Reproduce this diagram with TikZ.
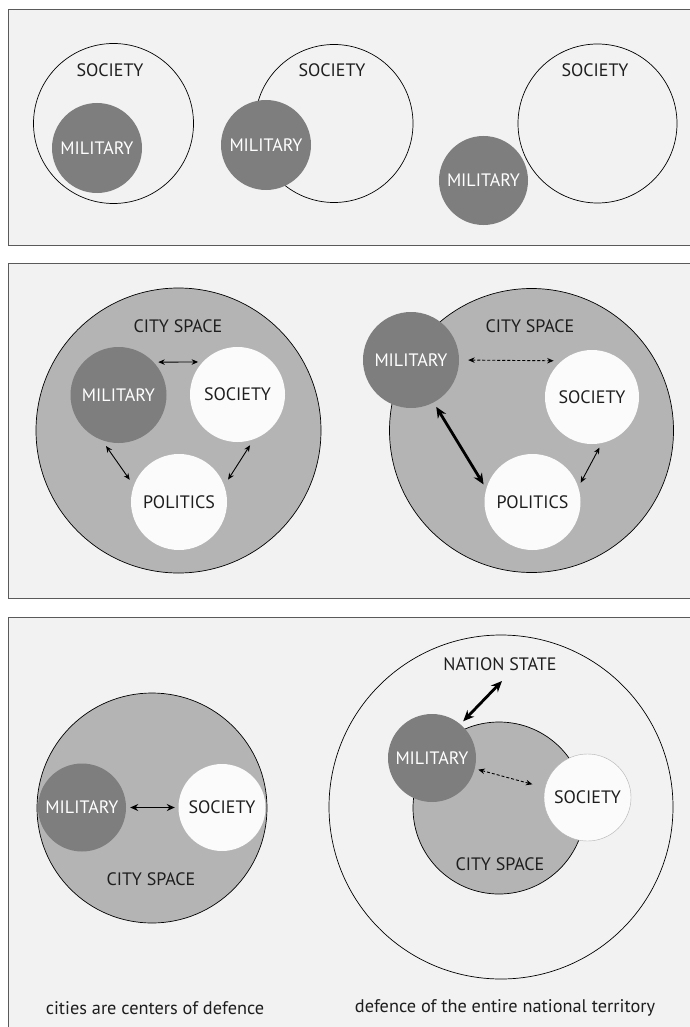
\documentclass[tikz,border=0pt]{standalone}
\usepackage{fontspec}
\setmainfont{PT Sans}
\usetikzlibrary{arrows.meta}
\definecolor{panelbg}{HTML}{F2F2F2}
\definecolor{milgray}{HTML}{7E7E7E}
\definecolor{citygray}{HTML}{B4B4B4}
\definecolor{socwhite}{HTML}{FBFBFB}
\definecolor{textdark}{HTML}{1E1E1E}
\definecolor{framegray}{HTML}{5A5A5A}
\begin{document}
\begin{tikzpicture}[x=1pt,y=-1pt,
  panel/.style={fill=panelbg, draw=framegray, line width=1pt},
  lbl/.style={text=textdark, font=\fontsize{18}{18}\selectfont, inner sep=0pt},
  ring/.style={circle, draw=black, line width=0.7pt, inner sep=0pt, text=textdark, font=\fontsize{18}{18}\selectfont},
  milnode/.style={circle, fill=milgray, inner sep=0pt, text=white, font=\fontsize{18}{18}\selectfont},
  socnode/.style={circle, fill=socwhite, inner sep=0pt, text=textdark, font=\fontsize{18}{18}\selectfont},
  citynode/.style={circle, fill=citygray, draw=black, line width=0.7pt, inner sep=0pt},
  thinarr/.style={{Stealth[length=6.5pt,width=5.5pt]}-{Stealth[length=6.5pt,width=5.5pt]}, line width=0.9pt, black},
  dasharr/.style={thinarr, dashed, dash pattern=on 3pt off 2pt},
  midarr/.style={{Stealth[length=8pt,width=7pt]}-{Stealth[length=8pt,width=7pt]}, line width=1.7pt, black},
  thickarr/.style={{Stealth[length=11pt,width=9.5pt]}-{Stealth[length=11pt,width=9.5pt]}, line width=2.8pt, black},
  caption/.style={text=textdark, font=\fontsize{18.3}{18.3}\selectfont, inner sep=0pt}
]
\useasboundingbox (0,0) rectangle (690,1027);
\clip (0,0) rectangle (690,1027);
\fill[white] (0,0) rectangle (690,1027);

% ---------- panel 1 ----------
\draw[panel] (8,10) rectangle (720,245);
\node[ring, minimum size=160pt] (s1a) at (113.5,123.5) {};
\node[lbl] (t1a) at (110,70) {SOCIETY};
\node[milnode, minimum size=90pt] (m1a) at (97,148) {MILITARY};

\node[ring, minimum size=158pt] (s1b) at (334,123.5) {};
\node[lbl] (t1b) at (332,70) {SOCIETY};
\node[milnode, minimum size=90pt] (m1b) at (266,145) {MILITARY};

\node[ring, minimum size=159pt] (s1c) at (597.5,123.5) {};
\node[lbl] (t1c) at (595,70) {SOCIETY};
\node[milnode, minimum size=89pt] (m1c) at (483.5,180.5) {MILITARY};

% ---------- panel 2 ----------
\draw[panel] (8,263) rectangle (720,598);
\node[citynode, minimum size=285pt] (c2a) at (178.5,430.5) {};
\node[lbl] (ct2a) at (178,326) {CITY SPACE};
\node[milnode, minimum size=96pt] (m2a) at (118.5,395) {MILITARY};
\node[socnode, minimum size=95pt] (s2a) at (237.5,394.5) {SOCIETY};
\node[socnode, minimum size=96pt] (p2a) at (179,502) {POLITICS};
\draw[thinarr, shorten <=4.5pt, shorten >=4.5pt] (m2a.43) -- (s2a.137);
\draw[thinarr, shorten <=7pt, shorten >=7pt] (m2a.250) -- (p2a.160);
\draw[thinarr, shorten <=7pt, shorten >=7pt] (s2a.290) -- (p2a.20);

\node[citynode, minimum size=284pt] (c2b) at (531.5,430.5) {};
\node[lbl] (ct2b) at (530,326) {CITY SPACE};
\node[milnode, minimum size=96pt] (m2b) at (411,360) {MILITARY};
\node[socnode, minimum size=94pt] (s2b) at (592,397) {SOCIETY};
\node[socnode, minimum size=96pt] (p2b) at (532.5,502) {POLITICS};
\draw[dasharr, shorten <=9pt, shorten >=8pt] (m2b.0) -- (s2b.130);
\draw[thickarr, shorten <=5pt, shorten >=5pt] (m2b.298) -- (p2b.164);
\draw[thinarr, shorten <=5pt, shorten >=5pt] (s2b.282) -- (p2b.18);

% ---------- panel 3 ----------
\draw[panel] (8,617) rectangle (720,1060);
\node[citynode, minimum size=230pt] (c3a) at (152,808) {};
\node[milnode, minimum size=88pt] (m3a) at (82,807.5) {MILITARY};
\node[socnode, minimum size=87pt] (s3a) at (222,807.5) {SOCIETY};
\node[lbl] (ct3a) at (151,879) {CITY SPACE};
\draw[midarr, shorten <=4pt, shorten >=3.5pt] (m3a.0) -- (s3a.180);
\node[caption] (cap3a) at (155,1008) {cities are centers of defence};

\node[ring, minimum size=344pt] (n3b) at (501,807) {};
\node[lbl] (ns3b) at (500,664) {NATION STATE};
\node[citynode, minimum size=172pt] (c3b) at (499,808) {};
\node[lbl] (ct3b) at (500,864) {CITY SPACE};
\node[milnode, minimum size=88pt] (m3b) at (432,758) {MILITARY};
\node[socnode, draw=gray!60, line width=0.4pt, minimum size=87pt] (s3b) at (587.5,797.5) {SOCIETY};
\draw[dasharr, shorten <=3.5pt, shorten >=13pt] (m3b.346.6) -- (s3b.167);
\coordinate (nsend) at (502,681);
\draw[thickarr, shorten <=4pt] (m3b.50) -- (nsend);
\node[caption] (cap3b) at (505,1008) {defence of the entire national territory};
\end{tikzpicture}
\end{document}
